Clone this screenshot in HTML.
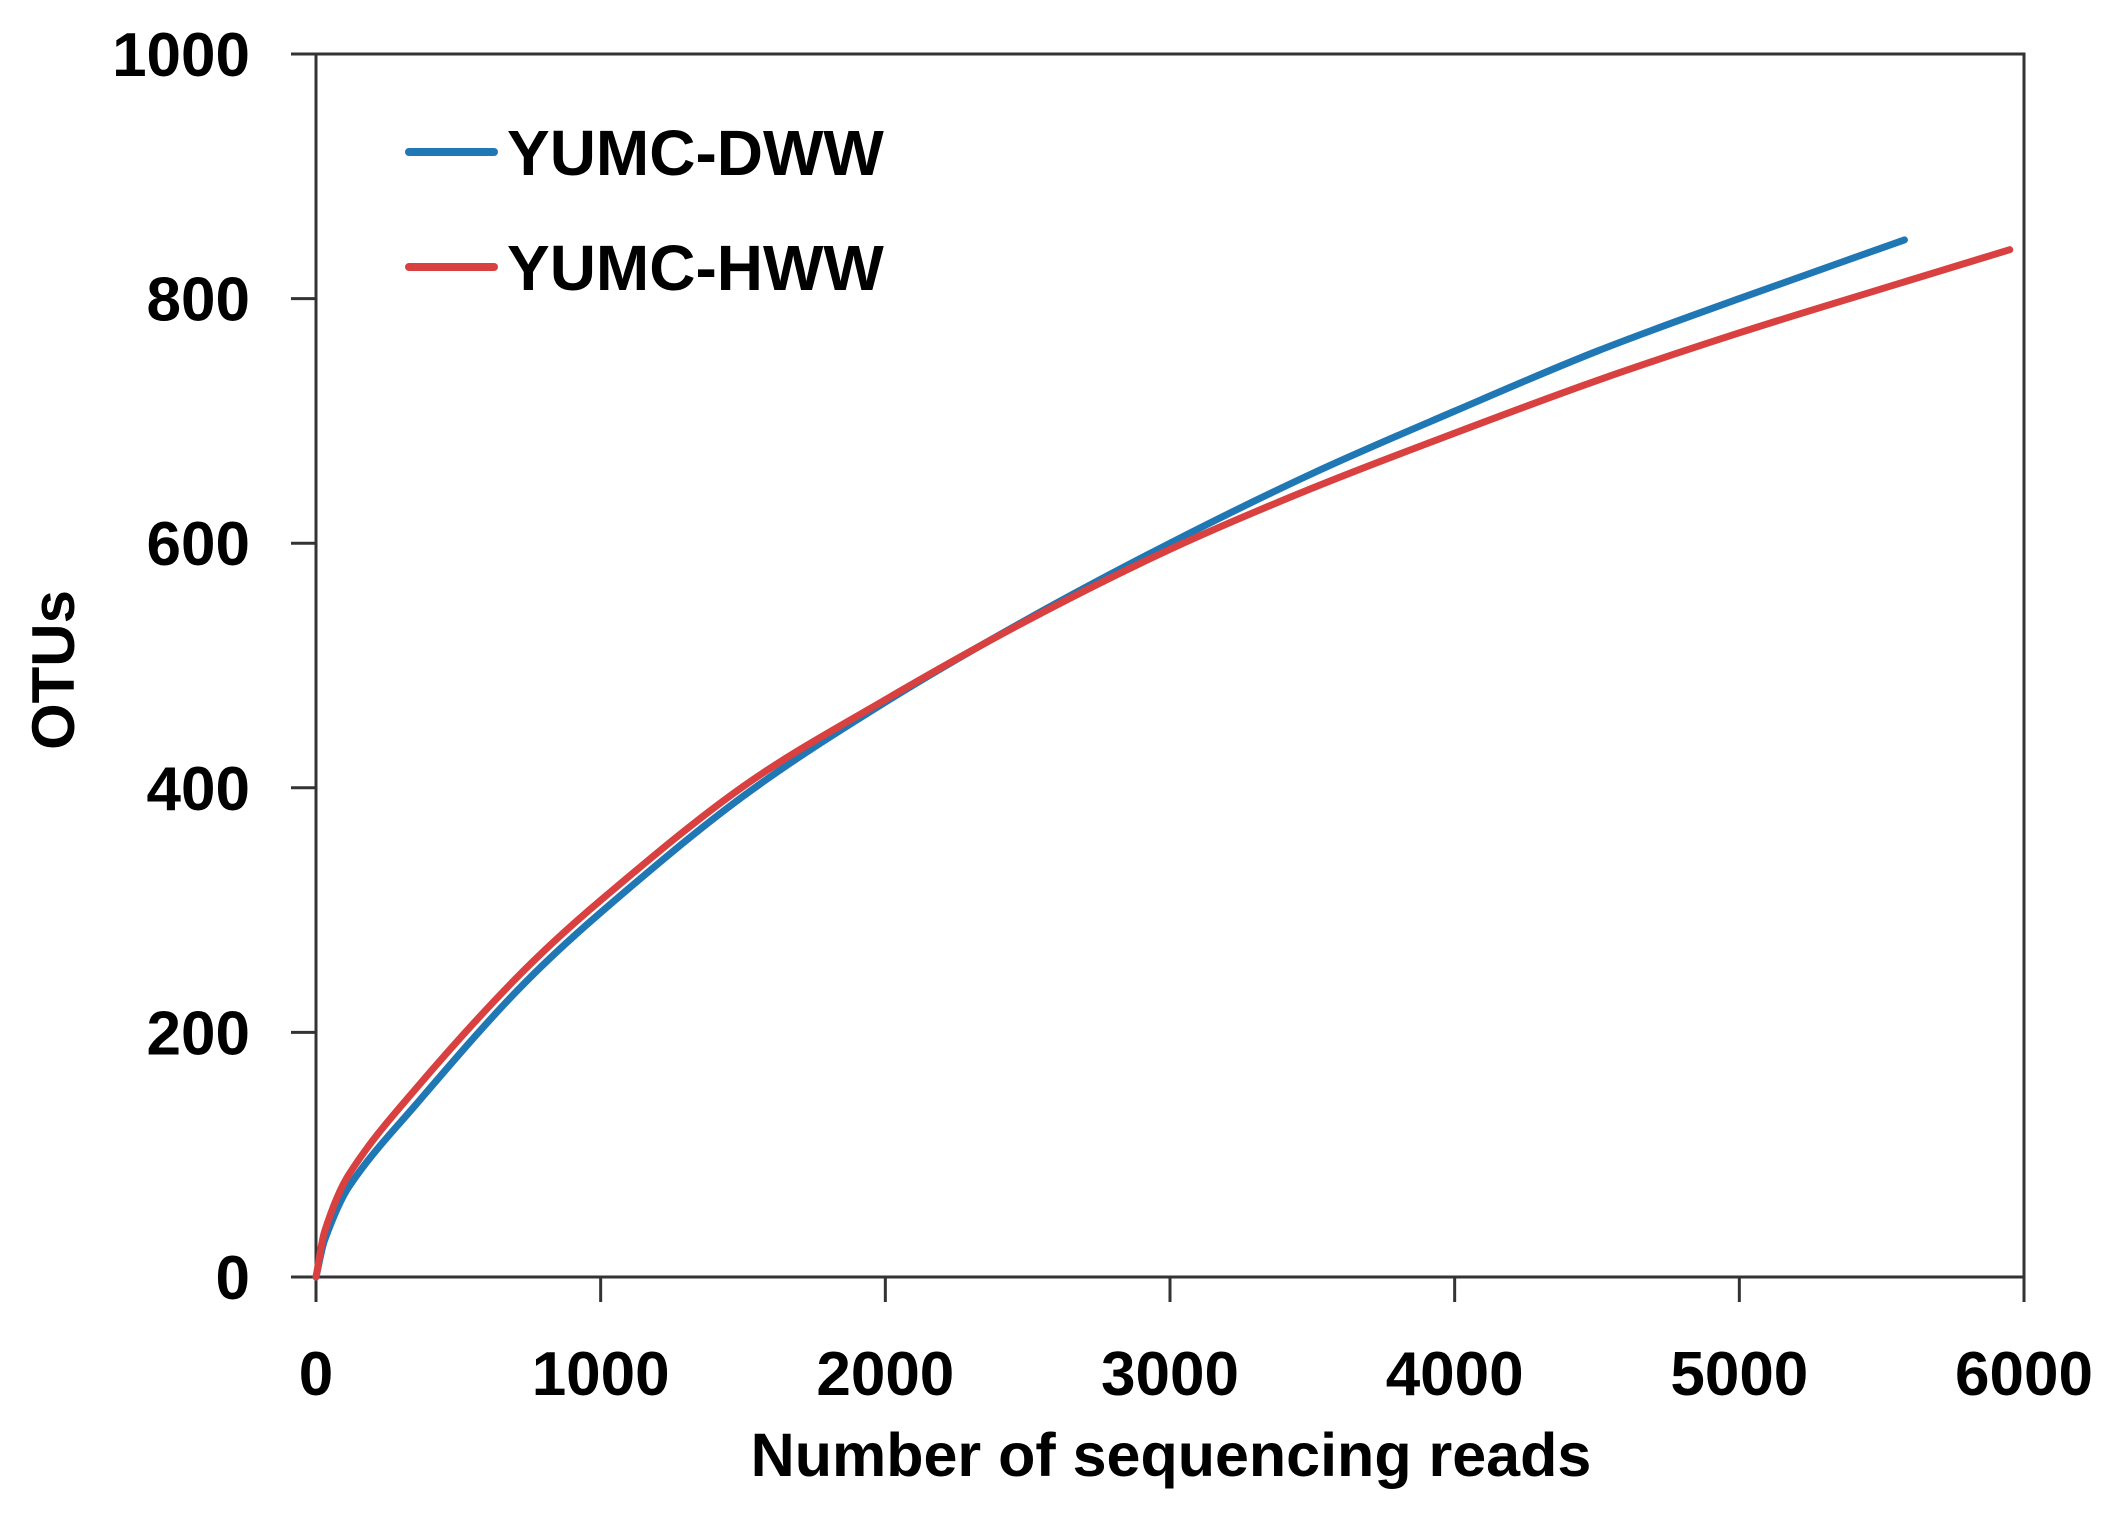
<!DOCTYPE html>
<html><head><meta charset="utf-8"><style>
body{margin:0;background:#fff;}
svg text{font-family:"Liberation Sans",sans-serif;font-weight:bold;fill:#000;}
</style></head><body>
<svg id="chart" width="2115" height="1516" viewBox="0 0 2115 1516" xmlns="http://www.w3.org/2000/svg">
<g id="axes"></g>
<g id="series"></g>
<g>
<line x1="409" y1="152" x2="494" y2="152" stroke="#1f77b4" stroke-width="8" stroke-linecap="round"/>
<text x="507" y="175" font-size="64">YUMC-DWW</text>
<line x1="409" y1="267" x2="494" y2="267" stroke="#d94040" stroke-width="8" stroke-linecap="round"/>
<text x="507" y="290" font-size="64">YUMC-HWW</text>
</g>
<text x="1171" y="1440" font-size="61" text-anchor="middle" transform="translate(0,36)">Number of sequencing reads</text>
<text x="0" y="0" font-size="60" text-anchor="middle" transform="translate(74,670) rotate(-90)">OTUs</text>
</svg>
<script>
const xTicks=[0,1000,2000,3000,4000,5000,6000];
const yTicks=[0,200,400,600,800,1000];
const dwwX=[0,30,116,351,702,1000,1500,2000,2500,3000,3500,4000,4500,5000,5580];
const dwwY=[0,30,74,141,233,298,393,470,538,600,657,708,757,800,848];
const hwwX=[0,30,116,351,702,1000,1500,2000,2500,3000,3500,4000,4500,5000,5500,5950];
const hwwY=[0,37,84,154,244,308,401,472,537,595,645,690,733,772,808,840];
const sx=v=>316+v*(2024-316)/6000;
const sy=v=>1277-v*(1277-54)/1000;
const NS="http://www.w3.org/2000/svg";
const ax=document.getElementById('axes');
function mk(tag,attrs,parent){const e=document.createElementNS(NS,tag);for(const k in attrs)e.setAttribute(k,attrs[k]);parent.appendChild(e);return e;}
let f=mk('rect',{x:316,y:54,width:2024-316,height:1277-54,fill:'none',stroke:'#333',"stroke-width":3},ax);


xTicks.forEach(t=>{
 let l=mk('line',{x1:sx(t),x2:sx(t),y1:1277,y2:1302,stroke:'#333',"stroke-width":3},ax);
 
 
 let tx=mk('text',{x:sx(t),y:1395,"font-size":62,"text-anchor":"middle"},ax);tx.textContent=t;
 
 
});
yTicks.forEach(t=>{
 let l=mk('line',{x1:291,x2:316,y1:sy(t),y2:sy(t),stroke:'#333',"stroke-width":3},ax);
 
 
 let tx=mk('text',{x:250,y:sy(t)+22,"font-size":62,"text-anchor":"end"},ax);tx.textContent=t;
 
 
});
const sg=document.getElementById('series');
function path(xs,ys){
 const n=xs.length,m=[];
 for(let i=0;i<n;i++){const a=Math.max(0,i-1),b=Math.min(n-1,i+1);m.push((ys[b]-ys[a])/(xs[b]-xs[a]));}
 let d='M'+sx(xs[0])+','+sy(ys[0]);
 for(let i=1;i<n;i++){const h=xs[i]-xs[i-1];
  d+=' C'+sx(xs[i-1]+h/3)+','+sy(ys[i-1]+m[i-1]*h/3)+' '+sx(xs[i]-h/3)+','+sy(ys[i]-m[i]*h/3)+' '+sx(xs[i])+','+sy(ys[i]);}
 return d;}
let p1=mk('path',{d:path(dwwX,dwwY),fill:'none',stroke:'#1f77b4',"stroke-width":7,"stroke-linecap":"round"},sg);


let p2=mk('path',{d:path(hwwX,hwwY),fill:'none',stroke:'#d94040',"stroke-width":7,"stroke-linecap":"round"},sg);


</script>
</body></html>
